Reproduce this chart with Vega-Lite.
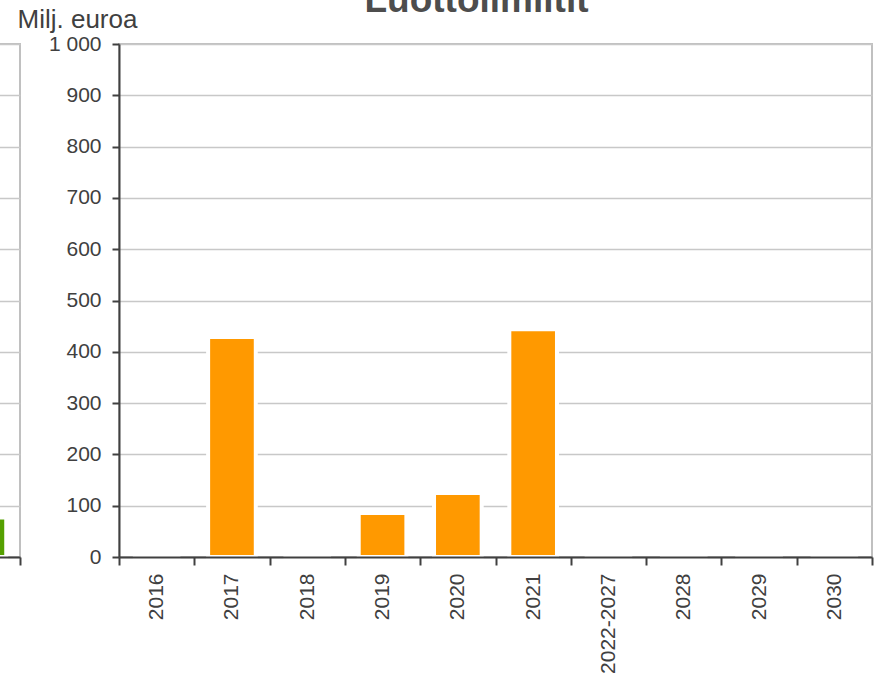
{
  "$schema": "https://vega.github.io/schema/vega-lite/v6.json",
  "description": "Luottolimiitit, milj. euroa, 2016-2030.",
  "padding": {"left": -57, "top": -18, "right": 5, "bottom": 5},
  "title": {
    "text": "Luottolimiitit",
    "fontSize": 37,
    "fontWeight": "bold",
    "font": "Liberation Sans",
    "color": "#4d4d4d",
    "anchor": "middle",
    "dx": 68,
    "offset": -15
  },
  "datasets": {
    "muut": [
      {"vuosi": "2030", "arvo": 77}
    ],
    "luotot": [
      {"vuosi": "2016", "arvo": 0},
      {"vuosi": "2017", "arvo": 429},
      {"vuosi": "2018", "arvo": 0},
      {"vuosi": "2019", "arvo": 86},
      {"vuosi": "2020", "arvo": 125},
      {"vuosi": "2021", "arvo": 444},
      {"vuosi": "2022-2027", "arvo": 0},
      {"vuosi": "2028", "arvo": 0},
      {"vuosi": "2029", "arvo": 0},
      {"vuosi": "2030", "arvo": 0}
    ]
  },
  "hconcat": [
    {
      "width": 75,
      "height": 513,
      "data": {"name": "muut"},
      "mark": {"type": "bar", "color": "#55a000", "stroke": "white", "strokeWidth": 4, "width": {"band": 0.633}},
      "encoding": {
        "x": {
          "field": "vuosi",
          "type": "nominal",
          "scale": {"paddingInner": 0, "paddingOuter": 0},
          "axis": {"labels": false, "title": null, "tickBand": "extent", "zindex": 1}
        },
        "y": {
          "field": "arvo",
          "type": "quantitative",
          "scale": {"domain": [0, 1000]},
          "axis": {
            "labels": false,
            "ticks": false,
            "domain": false,
            "title": null,
            "values": [0, 100, 200, 300, 400, 500, 600, 700, 800, 900, 1000]
          }
        }
      }
    },
    {
      "width": 753,
      "height": 513,
      "data": {"name": "luotot"},
      "mark": {"type": "bar", "color": "#ff9900", "stroke": "white", "strokeWidth": 4, "width": {"band": 0.633}},
      "encoding": {
        "x": {
          "field": "vuosi",
          "type": "nominal",
          "sort": null,
          "scale": {"paddingInner": 0, "paddingOuter": 0},
          "axis": {
            "title": null,
            "tickBand": "extent",
            "labelAngle": -90,
            "labelAlign": "right",
            "labelBaseline": "middle",
            "zindex": 1
          }
        },
        "y": {
          "field": "arvo",
          "type": "quantitative",
          "scale": {"domain": [0, 1000]},
          "axis": {
            "title": "Milj. euroa",
            "titleAngle": 0,
            "titleAlign": "left",
            "titleBaseline": "alphabetic",
            "titleX": -102,
            "titleY": -17,
            "titleFontSize": 26,
            "titleFontWeight": "normal",
            "tickSize": 7,
            "labelPadding": 11,
            "values": [0, 100, 200, 300, 400, 500, 600, 700, 800, 900, 1000],
            "labelExpr": "replace(format(datum.value, ','), ',', ' ')"
          }
        }
      }
    }
  ],
  "spacing": 99,
  "bounds": "flush",
  "config": {
    "font": "Liberation Sans",
    "view": {"stroke": "#c0c0c0", "strokeWidth": 2},
    "axis": {
      "domainColor": "#404040",
      "domainWidth": 2,
      "tickColor": "#404040",
      "tickWidth": 2,
      "tickSize": 8,
      "labelColor": "#404040",
      "labelFontSize": 21,
      "labelPadding": 8,
      "titleColor": "#404040",
      "gridColor": "#c8c8c8",
      "gridWidth": 1.5
    },
    "axisX": {"grid": false},
    "axisY": {"grid": true}
  }
}
